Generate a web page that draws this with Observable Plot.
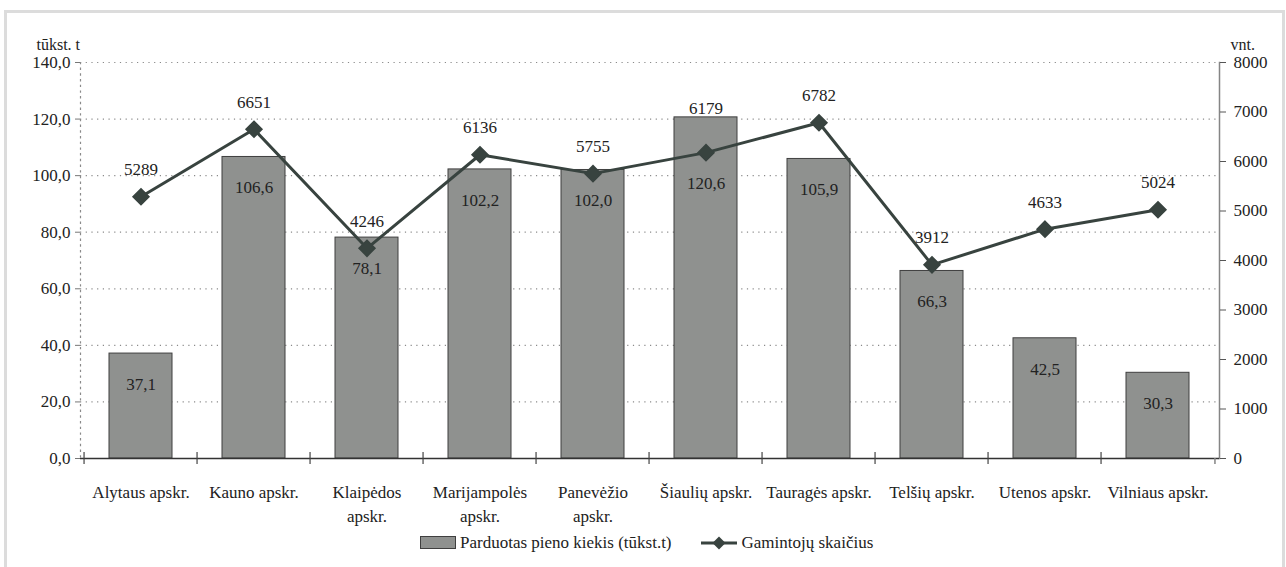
<!DOCTYPE html>
<html>
<head>
<meta charset="utf-8">
<script src="https://cdn.jsdelivr.net/npm/d3@7"></script>
<script src="https://cdn.jsdelivr.net/npm/@observablehq/plot@0.6"></script>
<style>
  html, body { margin: 0; padding: 0; background: #fff; }
  body { width: 1286px; height: 567px; position: relative; overflow: hidden;
         font-family: 'Liberation Serif', 'Times New Roman', Times, Tinos, 'Noto Serif', 'DejaVu Serif', serif; color: #222; }
  #frame { position: absolute; left: 4px; top: 10px; width: 1275px; height: 580px;
           border: 3px solid #dcdcdc; box-sizing: content-box; }
  #chart { position: absolute; left: 0; top: 0; }
  #legend { position: absolute; left: 420px; top: 533px; display: flex; align-items: center;
            font-size: 17px; line-height: 20px; white-space: nowrap; }
  #legend .item { display: flex; align-items: center; }
  #legend svg { display: block; }
</style>
</head>
<body>
<div id="frame"></div>
<div id="chart"></div>
<div id="legend"></div>
<script>
// ---- data ----
const regions = ["Alytaus apskr.", "Kauno apskr.", "Klaipėdos apskr.", "Marijampolės apskr.", "Panevėžio apskr.",
                 "Šiaulių apskr.", "Tauragės apskr.", "Telšių apskr.", "Utenos apskr.", "Vilniaus apskr."];
const regionLabels = ["Alytaus apskr.", "Kauno apskr.", "Klaipėdos\napskr.", "Marijampolės\napskr.", "Panevėžio\napskr.",
                      "Šiaulių apskr.", "Tauragės apskr.", "Telšių apskr.", "Utenos apskr.", "Vilniaus apskr."];
const milkSold = [37.1, 106.6, 78.1, 102.2, 102.0, 120.6, 105.9, 66.3, 42.5, 30.3];
const producers = [5289, 6651, 4246, 6136, 5755, 6179, 6782, 3912, 4633, 5024];
const leftTicks = [0, 20, 40, 60, 80, 100, 120, 140];
const rightTicks = [0, 1000, 2000, 3000, 4000, 5000, 6000, 7000, 8000];
const leftMax = 140, rightMax = 8000;
const seriesNames = ["Parduotas pieno kiekis (tūkst.t)", "Gamintojų skaičius"];
const unitLeft = "tūkst. t", unitRight = "vnt.";

const W = 1286, H = 526;
const mL = 80, mR = 67, mT = 62, mB = H - 458;
const step = (W - mL - mR) / regions.length;
const pxPerUnit = (H - mT - mB) / leftMax;
const tickUnits = 6 / pxPerUnit;

// ---- build table (labels nudged apart where the line and the bars collide) ----
const data = regions.map((r, i) => {
  const prodScaled = producers[i] * leftMax / rightMax;
  const barTopPx = milkSold[i] * pxPerUnit;
  const pointPx = prodScaled * pxPerUnit;
  let barLabPx = barTopPx - 31;
  if (Math.abs(barLabPx - pointPx) < 18) barLabPx = pointPx - 31;
  let lineLabPx = pointPx + 27;
  if (lineLabPx < barTopPx + 10 && lineLabPx > barTopPx - 30) lineLabPx = barTopPx + 9;
  return {
    region: r, label: regionLabels[i], milk: milkSold[i], prod: producers[i], prodScaled,
    barLabY: barLabPx / pxPerUnit, lineLabY: lineLabPx / pxPerUnit
  };
});

const fmt1 = d => d.toFixed(1).replace(".", ",");
const lineColor = "#38433f";
const barFill = "#8f918f";
const barStroke = "#3f3f3f";
const serif = "'Liberation Serif', 'Times New Roman', Times, Tinos, 'Noto Serif', 'DejaVu Serif', serif";

const chart = Plot.plot({
  width: W, height: H,
  marginLeft: mL, marginRight: mR, marginTop: mT, marginBottom: mB,
  style: { fontFamily: serif, fontSize: "17px", color: "#222", background: "transparent" },
  x: { domain: regions, paddingInner: 0.44, paddingOuter: 0.22, axis: null },
  y: { domain: [0, leftMax], axis: null },
  marks: [
    Plot.ruleY(leftTicks.filter(d => d > 0), { stroke: "#8a8a8a", strokeWidth: 1.2, strokeDasharray: "1.2,4.5" }),
    Plot.frame({ anchor: "left", stroke: "#8a8a8a", strokeWidth: 1.2, strokeDasharray: "1.2,4.5" }),
    Plot.barY(data, { x: "region", y: "milk", fill: barFill, stroke: barStroke, strokeWidth: 1 }),
    Plot.axisY({ anchor: "left", ticks: leftTicks, tickSize: 5, tickPadding: 5, tickFormat: fmt1,
                 fontSize: 17, fontFamily: serif, stroke: "#777", label: null }),
    Plot.frame({ anchor: "right", stroke: "#858585", strokeWidth: 1.5 }),
    Plot.axisY({ anchor: "right", ticks: rightTicks.map(v => v * leftMax / rightMax), tickSize: 6, tickPadding: 8,
                 tickFormat: d => String(Math.round(d * rightMax / leftMax)), fontSize: 17, fontFamily: serif,
                 stroke: "#555", label: null }),
    Plot.ruleY([0], { stroke: "#333", strokeWidth: 1.5 }),
    Plot.ruleX(regions, { x: d => d, dx: -step / 2, y1: -tickUnits, y2: tickUnits, stroke: "#444", strokeWidth: 1.2 }),
    Plot.ruleX(regions.slice(-1), { x: d => d, dx: step / 2, y1: -tickUnits, y2: 0, stroke: "#858585", strokeWidth: 1.5 }),
    Plot.text(data, { x: "region", y: 0, text: "label", dy: 22, lineAnchor: "top", lineHeight: 1.42,
                      fontSize: 17, fontFamily: serif, fill: "#222" }),
    Plot.line(data, { x: "region", y: "prodScaled", stroke: lineColor, strokeWidth: 3 }),
    Plot.dot(data, { x: "region", y: "prodScaled", symbol: "diamond2", r: 7.2, fill: lineColor, stroke: lineColor }),
    Plot.text(data, { x: "region", y: "barLabY", text: d => fmt1(d.milk), fontSize: 17, fontFamily: serif, fill: "#222" }),
    Plot.text(data, { x: "region", y: "lineLabY", text: d => String(d.prod), fontSize: 17, fontFamily: serif, fill: "#222" }),
    Plot.text([unitLeft], { frameAnchor: "top-left", text: d => d, dx: -44, dy: -24, textAnchor: "start",
                            fontSize: 16, fontFamily: serif, fill: "#222" }),
    Plot.text([unitRight], { frameAnchor: "top-right", text: d => d, dx: 11, dy: -24, textAnchor: "start",
                             fontSize: 16, fontFamily: serif, fill: "#222" })
  ]
});
document.getElementById("chart").appendChild(chart);

// ---- legend ----
const legend = document.getElementById("legend");
legend.innerHTML = `
  <div class="item">
    <svg width="37" height="14"><rect x="0.5" y="0.5" width="35" height="12" fill="${barFill}" stroke="${barStroke}"/></svg>
    <span style="margin-left:3px">${seriesNames[0]}</span>
  </div>
  <div class="item" style="margin-left:29px">
    <svg width="37" height="16"><line x1="0" y1="8" x2="36" y2="8" stroke="${lineColor}" stroke-width="3"/>
      <path d="M18 1.5 L24.5 8 L18 14.5 L11.5 8 Z" fill="${lineColor}"/></svg>
    <span style="margin-left:4px">${seriesNames[1]}</span>
  </div>`;
</script>
</body>
</html>
